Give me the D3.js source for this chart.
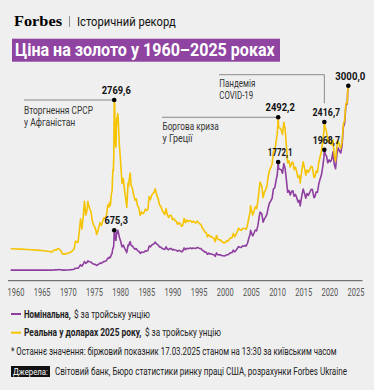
<!DOCTYPE html>
<meta charset="utf-8">
<style>
body { margin: 0; background: #efefef; }
svg { display: block; }
text { font-family: 'Roboto', 'DejaVu Sans Condensed', sans-serif; }
.forbes { font-family: 'Liberation Serif', 'DejaVu Serif', serif; font-weight: bold; font-size: 14px; }
.tick text { fill: #555; font-size: 10px; text-anchor: middle; }
.note { fill: #333; font-size: 10px; }
.val { font-weight: bold; font-size: 11px; text-anchor: middle; fill: #111; }
.leg { font-size: 10px; fill: #222; }
</style>
<body>
<svg width="374" height="390"></svg>
<script src="https://cdn.jsdelivr.net/npm/d3@7"></script>
<script>

// monthly/quarterly samples, $ per troy ounce
var dates = [
  "1960-01","1961-01","1962-01","1963-01","1964-01","1965-01","1966-01","1967-01","1967-07",
  "1968-01","1968-04","1968-07","1968-10","1969-01","1969-04","1969-07","1969-10","1969-12",
  "1970-01","1970-04","1970-07","1970-10","1971-01","1971-04","1971-07","1971-10",
  "1972-01","1972-04","1972-07","1972-10","1973-01","1973-04","1973-07","1973-10",
  "1974-01","1974-04","1974-07","1974-10","1974-12","1975-01","1975-04","1975-07","1975-10",
  "1976-01","1976-04","1976-07","1976-08","1976-10","1977-01","1977-04","1977-07","1977-10",
  "1978-01","1978-04","1978-07","1978-10",
  "1979-01","1979-02","1979-03","1979-04","1979-05","1979-06","1979-07","1979-08","1979-09","1979-10","1979-11","1979-12",
  "1980-01","1980-02","1980-03","1980-04","1980-05","1980-06","1980-07","1980-08","1980-09","1980-10","1980-11","1980-12",
  "1981-01","1981-04","1981-07","1981-10","1982-01","1982-04","1982-06","1982-09","1982-10",
  "1983-01","1983-02","1983-04","1983-07","1983-10","1984-01","1984-04","1984-07","1984-10",
  "1985-01","1985-04","1985-07","1985-10","1986-01","1986-04","1986-07","1986-10",
  "1987-01","1987-04","1987-07","1987-10","1987-12","1988-01","1988-04","1988-07","1988-10",
  "1989-01","1989-04","1989-07","1989-10","1990-01","1990-04","1990-07","1990-10",
  "1991-01","1991-04","1991-07","1991-10","1992-01","1992-04","1992-07","1992-10",
  "1993-01","1993-04","1993-07","1993-10","1994-01","1994-04","1994-07","1994-10",
  "1995-01","1995-04","1995-07","1995-10","1996-01","1996-04","1996-07","1996-10",
  "1997-01","1997-04","1997-07","1997-10","1998-01","1998-04","1998-07","1998-10",
  "1999-01","1999-04","1999-07","1999-10","2000-01","2000-04","2000-07","2000-10",
  "2001-01","2001-04","2001-07","2001-10","2002-01","2002-04","2002-07","2002-10",
  "2003-01","2003-04","2003-07","2003-10","2004-01","2004-04","2004-07","2004-10",
  "2005-01","2005-04","2005-07","2005-10","2006-01","2006-04","2006-05","2006-07","2006-10",
  "2007-01","2007-04","2007-07","2007-10","2008-01","2008-03","2008-07","2008-10",
  "2009-01","2009-04","2009-07","2009-10","2010-01","2010-04","2010-07","2010-10",
  "2011-01","2011-04","2011-07","2011-09","2011-10","2012-01","2012-04","2012-07","2012-10",
  "2013-01","2013-04","2013-07","2013-10","2014-01","2014-04","2014-07","2014-10",
  "2015-01","2015-04","2015-07","2015-10","2015-12","2016-04","2016-07","2016-10",
  "2017-01","2017-04","2017-07","2017-10","2018-01","2018-04","2018-08","2018-10",
  "2019-01","2019-04","2019-07","2019-10","2020-01","2020-04","2020-07","2020-08","2020-10",
  "2021-01","2021-04","2021-07","2021-10","2022-01","2022-04","2022-07","2022-10",
  "2023-01","2023-04","2023-07","2023-10","2024-01","2024-04","2024-07","2024-10",
  "2025-01","2025-02","2025-03-17"
];

var nominal = [
  35,35,35,35,35,35,35,35,35,
  35.2,37.8,39.4,39.3,42.2,43.3,41.7,40.3,35.2,
  34.9,35.9,35.3,37.5,37.9,39,41,42.5,
  45.8,49,65.7,64.9,65.1,90.5,120.2,100.1,
  129.2,172.2,143,158.8,183.8,176.3,169.9,165.2,142.9,
  131.6,128.2,117.7,109.3,116,132.3,149.2,143.4,158.5,
  173.2,175.3,188.2,227.4,
  227.3,245.7,242.1,239.2,257.6,279.1,294.7,300.8,355.1,391.7,392.5,455.1,
  675.3,665.3,553.6,517.4,513.8,600.7,644.3,627.2,673.6,661.2,623.5,594.9,
  557.6,494.8,409.3,436.8,384.1,350,314.9,436,422,
  481.3,491.9,432.6,422.6,393.7,370.9,381.3,347.7,340.3,
  302.8,324.9,317.4,325.3,345.4,340.5,348.5,423.3,
  408.3,438.4,450.4,465.4,486.3,476.7,451.6,436.9,406,
  404,384.1,375.3,366.9,410.1,374.3,362.5,380.9,
  383.6,357.9,368.2,359.4,354.3,338.3,353,344.3,
  329,342,392,364.2,386.9,376.9,385.4,389.3,
  379.2,391,386.1,383.1,399.5,392.9,383.5,381.1,
  355,344.4,323.8,324.9,289.1,308.3,293,296.3,
  287.3,282.4,256.2,311.6,284.3,279.7,281.6,270,
  265.5,260.9,268.2,283.1,281.7,302.4,313.7,316.8,
  356.9,328.2,351,379,414,404,398.1,420.5,
  424.2,429.2,424.5,470.8,549.9,610.6,676,633.2,585.8,
  631.2,679.4,665.3,754.3,889.6,968.4,939.8,806.6,
  858.7,890.2,934.2,1043.2,1118,1148,1193,1342,
  1356,1474,1572,1772.1,1666,1656,1649,1594,1747,
  1671,1487,1286,1316,1244,1299,1311,1223,
  1251,1198,1128,1157,1068,1242,1337,1266,
  1192,1266,1237,1280,1331,1335,1201,1215,
  1291,1286,1413,1495,1560,1683,1847,1968.7,1900,
  1867,1760,1807,1777,1817,1937,1733,1665,
  1898,2000,1951,1916,2034,2331,2398,2690,
  2709,2895,3000
];

// in 2025 dollars
var real = [
  378,375,372,367,363,357,350,339,334,
  329,350,361,355,376,381,362,345,297,
  295,299,290,305,305,310,323,332,
  355,376,501,487,481,659,861,699,
  879,1140,922,1002,1140,1090,1026,978,835,
  758,728,659,610,639,718,797,753,818,
  876,871,917,1080,
  1050,1125,1097,1074,1144,1228,1285,1296,1516,1653,1641,1884,
  2769.6,2694,2214,2049,2014,2331,2487,2402,2553,2486,2319,2177,
  2030,1761,1433,1507,1306,1173,1042,1434,1384,
  1564,1594,1393,1352,1244,1161,1182,1067,1035,
  914,971,943,960,1015,994,1014,1219,
  1168,1241,1266,1294,1342,1311,1228,1180,1080,
  1063,999,961,928,1025,925,881,918,
  913,845,862,834,815,771,801,775,
  737,759,866,798,843,814,829,829,
  804,821,807,793,823,802,779,770,
  714,689,644,643,570,604,574,578,
  557,545,492,592,534,520,521,497,
  483,472,483,507,501,538,555,558,
  625,571,607,652,708,687,673,702,
  704,704,692,763,880,971,1071,1000,920,
  985,1053,1025,1147,1343,1452,1382,1202,
  1288,1326,1392,1544,1643,1688,1742,1946,
  1953,2093,2232,2492.2,2332,2318,2292,2216,2411,
  2306,2037,1762,1790,1692,1754,1770,1651,
  1689,1617,1523,1550,1436,1652,1778,1671,
  1562,1646,1608,1651,1704,1695,1525,1531,
  1627,1608,1766,1854,1934,2087,2272,2416.7,2328,
  2259,2103,2123,2061,2053,2131,1872,1790,
  2031,2110,2049,1993,2095,2378,2446,2717,
  2723,2895,3000
];

var tickYears = ["1960","1965","1970","1975","1980","1985","1990","1995","2000","2005","2010","2015","2020","2025"];

// labelled points: [date, series, value, label width]
var marks = [
  ["1980-01", "real", 2769.6, 29],
  ["1980-01", "nominal", 675.3, 23.3],
  ["2011-09", "real", 2492.2, 29.3],
  ["2011-09", "nominal", 1772.1, 24.7],
  ["2020-08", "real", 2416.7, 27.7],
  ["2020-08", "nominal", 1968.7, 27.3],
  ["2025-03-17", "real", 3000, 30]
];

var purple = "#8e3f9f", yellow = "#f6c300";

var svg = d3.select("svg");

// squeeze a text horizontally to the width it has in the picture (condensed face)
function fit(sel, w) {
  sel.each(function() {
    var t = d3.select(this);
    var n = this.getComputedTextLength();
    var ww = typeof w === "function" ? w(t.datum()) : w;
    var x0 = +t.attr("x"), y0 = +t.attr("y");
    t.attr("x", 0).attr("y", 0)
      .attr("transform", "translate(" + x0 + "," + y0 + ") scale(" + (ww / n) + ",1)");
  });
  return sel;
}

var parse = function(s) { return s.length > 7 ? d3.timeParse("%Y-%m-%d")(s) : d3.timeParse("%Y-%m")(s); };
var data = dates.map(function(d, i) { return {date: parse(d), nominal: nominal[i], real: real[i]}; });

var x = d3.scaleTime()
    .domain([parse("1960-01"), parse("2025-03-17")])
    .range([10.7, 348.3]);

var y = d3.scaleLinear()
    .domain([0, 3000])
    .range([272.3, 85.7]);

var ua = d3.formatLocale({decimal: ",", thousands: "", grouping: [3], currency: ["", "$"]});
var fmt = ua.format(".1f");

// header
fit(svg.append("text").attr("class", "forbes").attr("x", 14).attr("y", 25.5).text("Forbes"), 48);
svg.append("line").attr("x1", 69.5).attr("x2", 69.5).attr("y1", 16).attr("y2", 27).attr("stroke", "#777").attr("stroke-width", 0.8);
fit(svg.append("text").attr("x", 77).attr("y", 25.5).attr("font-size", 12).attr("fill", "#111").text("Історичний рекорд"), 99);

svg.append("rect").attr("x", 12).attr("y", 38.7).attr("width", 268).attr("height", 23).attr("fill", "#8e44a0");
fit(svg.append("text").attr("x", 15).attr("y", 56.3).attr("font-size", 18).attr("font-weight", "bold").attr("fill", "#fff")
    .text("Ціна на золото у 1960–2025 роках"), 260);

// x axis
svg.append("line").attr("x1", 8).attr("x2", 362.5).attr("y1", 280.7).attr("y2", 280.7).attr("stroke", "#555").attr("stroke-width", 1);

var xt = d3.scalePoint().domain(tickYears).range([16, 356]);
fit(svg.append("g").attr("class", "tick").selectAll("text")
    .data(tickYears).enter().append("text")
    .attr("x", function(d) { return xt(d); })
    .attr("y", 296)
    .text(function(d) { return d; }), 16.8);

// annotations
function note(lines, x0, y0) {
  lines.forEach(function(t, i) {
    fit(svg.append("text").attr("class", "note").attr("x", x0).attr("y", y0 + i * 12).text(t[0]), t[1]);
  });
}
function lead(pts) {
  svg.append("path").attr("d", d3.line()(pts)).attr("fill", "none").attr("stroke", "#8a8a8a").attr("stroke-width", 1);
}

var pt = function(m) { return [x(parse(m[0])), y(m[2])]; };

lead([[24, pt(marks[0])[1]], pt(marks[0])]);
note([["Вторгнення СРСР", 69], ["у Афганістан", 51.3]], 24, 114);

lead([[162, pt(marks[2])[1]], pt(marks[2])]);
note([["Боргова криза", 56.3], ["у Греції", 30]], 162.5, 130);

lead([[219, 74.7], [pt(marks[4])[0], 74.7], [pt(marks[4])[0], 103.3]]);
note([["Пандемія", 36], ["COVID-19", 34]], 219.3, 86.7);

// lines
var lineN = d3.line().x(function(d) { return x(d.date); }).y(function(d) { return y(d.nominal); });
var lineR = d3.line().x(function(d) { return x(d.date); }).y(function(d) { return y(d.real); });

svg.append("path").datum(data).attr("d", lineN).attr("fill", "none").attr("stroke", purple).attr("stroke-width", 1.6).attr("stroke-linejoin", "round");
svg.append("path").datum(data).attr("d", lineR).attr("fill", "none").attr("stroke", yellow).attr("stroke-width", 1.6).attr("stroke-linejoin", "round");

// dots and values
svg.selectAll("circle.dot").data(marks).enter().append("circle")
    .attr("cx", function(d) { return pt(d)[0]; })
    .attr("cy", function(d) { return pt(d)[1]; })
    .attr("r", 2.3).attr("fill", "#000");

fit(svg.selectAll("text.val").data(marks).enter().append("text")
    .attr("class", "val")
    .attr("x", function(d) { return pt(d)[0] + 2; })
    .attr("y", function(d) { return pt(d)[1] - 6; })
    .text(function(d) { return fmt(d[2]); }), function(d) { return d[3]; });

// legend: [colour, bold part, its width, rest]
var leg = [
  [purple, "Номінальна,", 46.7, "$ за тройську унцію"],
  [yellow, "Реальна у доларах 2025 року,", 117.7, "$ за тройську унцію"]
];
leg.forEach(function(l, i) {
  var ly = 314 + i * 18.7;
  svg.append("line").attr("x1", 11).attr("x2", 21).attr("y1", ly).attr("y2", ly).attr("stroke", l[0]).attr("stroke-width", 2);
  fit(svg.append("text").attr("class", "leg").attr("x", 24).attr("y", ly + 3.5)
      .attr("font-weight", "bold").attr("fill", "#111").attr("font-size", 9.5).text(l[1]), l[2]);
  fit(svg.append("text").attr("class", "leg").attr("x", 24 + l[2] + 3.3).attr("y", ly + 3.5)
      .attr("font-size", 9).text(l[3]), 76);
});

fit(svg.append("text").attr("class", "leg").attr("x", 11).attr("y", 354.5).attr("font-size", 9)
    .text("* Останнє значення: біржовий показник 17.03.2025 станом на 13:30 за київським часом"), 326);

svg.append("rect").attr("x", 11).attr("y", 366).attr("width", 39).attr("height", 11).attr("fill", "#111");
fit(svg.append("text").attr("x", 13).attr("y", 374.8).attr("font-size", 9.5).attr("fill", "#fff").text("Джерела:"), 35);
fit(svg.append("text").attr("class", "leg").attr("x", 55).attr("y", 374.8).attr("font-size", 9)
    .text("Світовий банк, Бюро статистики ринку праці США, розрахунки Forbes Ukraine"), 292);

</script>
